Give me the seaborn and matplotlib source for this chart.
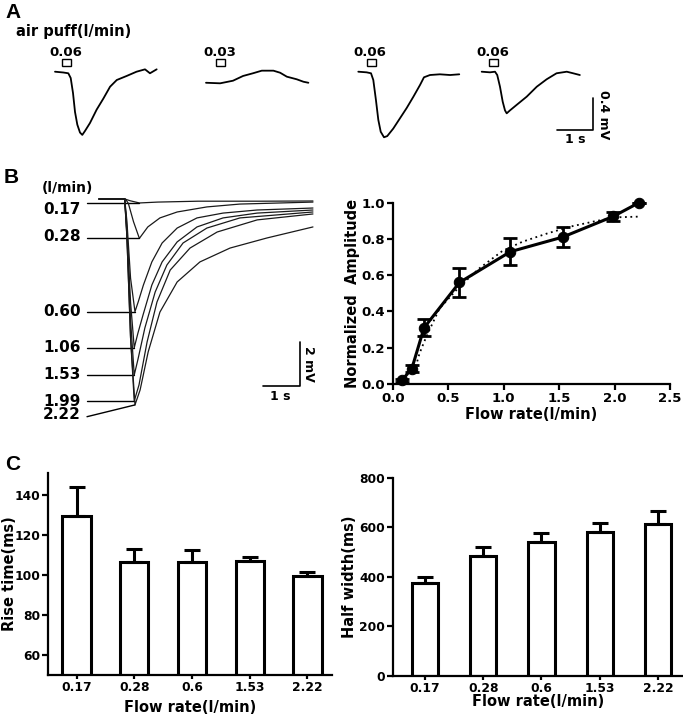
import numpy as np
import pandas as pd
import matplotlib
matplotlib.use("Agg")
import matplotlib.pyplot as plt
import seaborn as sns
from matplotlib.patches import Rectangle

# ------------------------------------------------------------------ data
# Panel A: example responses to air puffs (time in s, potential in mV)
A_flow_labels = ["0.06", "0.03", "0.06", "0.06"]
A_t1 = [0, 0.235, 0.377, 0.445, 0.51, 0.567, 0.632, 0.708, 0.773, 0.85, 0.99, 1.18, 1.37, 1.56, 1.75, 2.03, 2.31, 2.55, 2.69, 2.88]
A_v1 = [0, -0.01, -0.02, -0.08, -0.27, -0.51, -0.67, -0.77, -0.80, -0.75, -0.65, -0.48, -0.34, -0.19, -0.105, -0.054, 0.0, 0.03, -0.02, 0.03]
A_t2 = [0, 0.40, 0.765, 1.05, 1.33, 1.58, 1.91, 2.10, 2.29, 2.57, 2.76, 2.90]
A_v2 = [-0.14, -0.147, -0.114, -0.054, -0.02, 0.013, 0.013, -0.013, -0.063, -0.096, -0.127, -0.14]
A_t3 = [0, 0.235, 0.36, 0.425, 0.5, 0.567, 0.635, 0.728, 0.82, 0.99, 1.18, 1.37, 1.56, 1.75, 1.86, 2.03, 2.31, 2.60, 2.86]
A_v3 = [0, -0.008, -0.02, -0.105, -0.36, -0.61, -0.76, -0.83, -0.815, -0.72, -0.59, -0.46, -0.317, -0.167, -0.071, -0.042, -0.033, -0.042, -0.033]
A_t4 = [0, 0.235, 0.377, 0.44, 0.518, 0.595, 0.66, 0.708, 0.80, 0.99, 1.275, 1.56, 1.84, 2.12, 2.41, 2.59, 2.78]
A_v4 = [0, -0.008, 0, -0.042, -0.19, -0.38, -0.49, -0.527, -0.49, -0.42, -0.316, -0.19, -0.096, -0.02, 0, -0.02, -0.042]
A_stim_on = [0.20, 0.28, 0.24, 0.21]   # s after trace start
A_stim_dur = 0.26                       # s

# Panel B (left): responses at increasing flow rates (time s, mV)
B_labels = ["0.17", "0.28", "0.60", "1.06", "1.53", "1.99", "2.22"]
B_t017 = [0, 0.70, 0.85, 1.10, 1.60, 2.70, 4.40, 5.83]
B_v017 = [0, 0, -0.08, -0.18, -0.14, -0.10, -0.10, -0.09]
B_t028 = [0, 0.72, 0.80, 0.94, 1.10, 1.33, 1.66, 2.13, 2.94, 3.84, 5.83]
B_v028 = [0, 0, -0.2, -1.03, -1.79, -1.27, -0.86, -0.59, -0.36, -0.23, -0.14]
B_t060 = [0, 0.70, 0.76, 0.86, 0.98, 1.07, 1.21, 1.44, 1.72, 2.13, 2.67, 3.38, 4.31, 5.83]
B_v060 = [0, 0, -1.0, -3.6, -5.12, -4.67, -3.91, -2.86, -2.0, -1.32, -0.86, -0.64, -0.5, -0.41]
B_t106 = [0, 0.70, 0.76, 0.86, 0.96, 1.06, 1.20, 1.44, 1.72, 2.13, 2.67, 3.38, 4.31, 5.83]
B_v106 = [0, 0, -1.3, -4.7, -6.76, -6.1, -5.27, -3.91, -2.86, -1.95, -1.27, -0.86, -0.64, -0.5]
B_t153 = [0, 0.70, 0.76, 0.86, 0.96, 1.06, 1.25, 1.53, 1.85, 2.29, 2.94, 3.84, 5.83]
B_v153 = [0, 0, -1.5, -5.5, -8.0, -7.3, -5.86, -4.23, -3.0, -2.0, -1.32, -0.86, -0.59]
B_t199 = [0, 0.70, 0.76, 0.86, 0.96, 1.09, 1.31, 1.58, 1.94, 2.48, 3.22, 4.31, 5.83]
B_v199 = [0, 0, -1.7, -6.3, -9.18, -8.45, -6.5, -4.68, -3.23, -2.23, -1.5, -0.95, -0.68]
B_t222 = [0, 0.70, 0.76, 0.86, 0.98, 1.12, 1.34, 1.66, 2.13, 2.75, 3.57, 4.58, 5.83]
B_v222 = [0, 0, -1.7, -6.3, -9.36, -8.68, -6.95, -5.14, -3.77, -2.86, -2.23, -1.77, -1.27]

# Panel B (right): normalized amplitude vs flow rate
B_flow = [0.08, 0.17, 0.28, 0.60, 1.06, 1.53, 1.99, 2.22]
B_amp = [0.02, 0.085, 0.31, 0.56, 0.73, 0.81, 0.925, 1.00]
B_sem = [0.01, 0.02, 0.048, 0.08, 0.074, 0.055, 0.025, 0.0]
B_fit_x = [0.205, 0.24, 0.30, 0.42, 0.60, 0.78, 0.99, 1.17, 1.39, 1.60, 1.84, 2.05, 2.21]
B_fit_y = [0.096, 0.17, 0.26, 0.417, 0.537, 0.638, 0.735, 0.785, 0.83, 0.868, 0.90, 0.92, 0.923]

# Panel C: rise time and half width
C_flow = ["0.17", "0.28", "0.6", "1.53", "2.22"]
C_rise = [129.5, 106.2, 106.5, 106.7, 99.2]
C_rise_sem = [14.7, 6.6, 6.0, 2.1, 2.0]
C_half = [373, 483, 540, 582, 611]
C_half_sem = [27, 35, 38, 33, 56]

# ------------------------------------------------------------------ style
sns.set_style("ticks")
plt.rcParams["font.family"] = ["DejaVu Sans"]
plt.rcParams["font.weight"] = "bold"
plt.rcParams["axes.labelweight"] = "bold"
for key in ("text.color", "axes.labelcolor", "xtick.color", "ytick.color", "axes.edgecolor"):
    plt.rcParams[key] = "black"

W, H = 683, 719
fig = plt.figure(figsize=(W / 100, H / 100), dpi=100)


def px_ax(l, t, r, b):
    return fig.add_axes([l / W, 1 - b / H, (r - l) / W, (b - t) / H])


def ftext(x, y, s, **kw):
    fig.text(x / W, 1 - y / H, s, **kw)


LW_AX = 1.6

# ------------------------------------------------------------------ panel A
ftext(5, 3, "A", fontsize=15, fontweight="bold", va="top", family="Liberation Sans")
ftext(16, 31.5, "air puff(l/min)", fontsize=10.5, fontweight="bold", va="center")

A_PX_S, A_PX_MV, A_Y0 = 35.3, 79.0, 71.7
axA = px_ax(0, 40, W, 160)
axA.set_xlim(0, W / A_PX_S)
axA.set_ylim((A_Y0 - 160) / A_PX_MV, (A_Y0 - 40) / A_PX_MV)
axA.axis("off")
A_start_px = [55, 206, 358.3, 481.7]
A_times = [A_t1, A_t2, A_t3, A_t4]
A_volts = [A_v1, A_v2, A_v3, A_v4]
for t, v, x0, lab, st in zip(A_times, A_volts, A_start_px, A_flow_labels, A_stim_on):
    off = x0 / A_PX_S
    axA.plot(np.array(t) + off, v, color="black", lw=1.3)
    axA.add_patch(Rectangle((off + st, (A_Y0 - 66) / A_PX_MV), A_stim_dur, 7 / A_PX_MV,
                            fill=False, ec="black", lw=1.0))
    axA.text(off + st + A_stim_dur / 2 - 0.03, (A_Y0 - 53) / A_PX_MV, lab, ha="center",
             va="center", fontsize=9.5, fontweight="bold")
# scale bar A: 1 s, 0.4 mV
sb_t0 = 557.3 / A_PX_S
sb_v0 = (A_Y0 - 130) / A_PX_MV
axA.plot([sb_t0, sb_t0 + 1, sb_t0 + 1], [sb_v0, sb_v0, sb_v0 + 0.4], color="black", lw=1.2)
axA.text(sb_t0 + 0.5, sb_v0 - 0.04, "1 s", ha="center", va="top", fontsize=9, fontweight="bold")
axA.text(sb_t0 + 1.12, sb_v0 + 0.2, "0.4 mV", ha="left", va="center", rotation=-90,
         fontsize=9, fontweight="bold")

# ------------------------------------------------------------------ panel B left
ftext(4, 168, "B", fontsize=15, fontweight="bold", va="top", family="Liberation Sans")
ftext(42, 187.7, "(l/min)", fontsize=10, fontweight="bold", va="center")

B_PX_S, B_PX_MV, B_X0, B_Y0 = 36.7, 22.0, 99.0, 199.0
axB = px_ax(0, 175, 330, 430)
axB.set_xlim((0 - B_X0) / B_PX_S, (330 - B_X0) / B_PX_S)
axB.set_ylim((B_Y0 - 430) / B_PX_MV, (B_Y0 - 175) / B_PX_MV)
axB.axis("off")
B_times = [B_t017, B_t028, B_t060, B_t106, B_t153, B_t199, B_t222]
B_volts = [B_v017, B_v028, B_v060, B_v106, B_v153, B_v199, B_v222]
B_text_y_px = [210, 236.7, 311.7, 347.7, 374.3, 401, 414.5]
line_x0 = (87 - B_X0) / B_PX_S
for i, (t, v, lab, ty) in enumerate(zip(B_times, B_volts, B_labels, B_text_y_px)):
    axB.plot(t, v, color="#1a1a1a", lw=0.9)
    k = int(np.argmin(v))
    start_v = v[k] if i < 6 else (B_Y0 - 416.7) / B_PX_MV
    axB.plot([line_x0, t[k]], [start_v, v[k]], color="black", lw=1.0)
    ftext(43, ty, lab, fontsize=11, fontweight="bold", va="center")
# scale bar B: 1 s, 2 mV
bs_t0 = (263.3 - B_X0) / B_PX_S
bs_v0 = (B_Y0 - 386) / B_PX_MV
axB.plot([bs_t0, bs_t0 + 1, bs_t0 + 1], [bs_v0, bs_v0, bs_v0 + 2], color="black", lw=1.2)
axB.text(bs_t0 + 0.45, bs_v0 - 0.2, "1 s", ha="center", va="top", fontsize=9, fontweight="bold")
axB.text(bs_t0 + 1.05, bs_v0 + 1.0, "2 mV", ha="left", va="center", rotation=-90,
         fontsize=9, fontweight="bold")

# ------------------------------------------------------------------ panel B right
axR = px_ax(393, 202.7, 670, 384)
axR.plot(B_fit_x, B_fit_y, color="black", lw=1.3, linestyle=(0, (1, 2)))
sns.lineplot(x=B_flow, y=B_amp, ax=axR, color="black", lw=2.2, marker="o", markersize=7.5,
             markeredgecolor="black", markerfacecolor="black")
axR.errorbar(B_flow, B_amp, yerr=B_sem, fmt="none", ecolor="black", elinewidth=2,
             capsize=4.7, capthick=2)
for ln in axR.lines:
    ln.set_clip_on(False)
axR.set_xlim(0, 2.5)
axR.set_ylim(0, 1.0)
axR.set_xticks([0, 0.5, 1.0, 1.5, 2.0, 2.5])
axR.set_xticklabels(["0.0", "0.5", "1.0", "1.5", "2.0", "2.5"])
axR.set_yticks([0, 0.2, 0.4, 0.6, 0.8, 1.0])
axR.set_yticklabels(["0.0", "0.2", "0.4", "0.6", "0.8", "1.0"])
axR.set_xlabel("Flow rate(l/min)", fontsize=10.5)
axR.set_ylabel("Normalized  Amplitude", fontsize=10.5)
axR.xaxis.set_label_coords(0.5, -0.125)
axR.yaxis.set_label_coords(-0.118, 0.5)

# ------------------------------------------------------------------ panel C
ftext(5, 455, "C", fontsize=15, fontweight="bold", va="top", family="Liberation Sans")

axC1 = px_ax(48.3, 473, 331.7, 674.5)
dfr = pd.DataFrame({"flow": C_flow, "val": C_rise})
sns.barplot(data=dfr, x="flow", y="val", order=C_flow, ax=axC1, color="white",
            edgecolor="black", linewidth=2.2, width=0.49, errorbar=None)
axC1.errorbar(range(len(C_flow)), C_rise, yerr=[np.zeros(len(C_flow)), C_rise_sem],
              fmt="none", ecolor="black", elinewidth=2.2, capsize=6, capthick=2.2)
axC1.set_xlim(-0.49, 4.42)
axC1.set_ylim(50, 151)
axC1.set_yticks([60, 80, 100, 120, 140])
axC1.set_xlabel("Flow rate(l/min)", fontsize=10.5)
axC1.set_ylabel("Rise time(ms)", fontsize=10.5)
axC1.xaxis.set_label_coords(0.5, -0.127)
axC1.yaxis.set_label_coords(-0.112, 0.5)

axC2 = px_ax(393, 477.7, 683, 675.7)
dfh = pd.DataFrame({"flow": C_flow, "val": C_half})
sns.barplot(data=dfh, x="flow", y="val", order=C_flow, ax=axC2, color="white",
            edgecolor="black", linewidth=2.2, width=0.45, errorbar=None)
axC2.errorbar(range(len(C_flow)), C_half, yerr=[np.zeros(len(C_flow)), C_half_sem],
              fmt="none", ecolor="black", elinewidth=2.2, capsize=6, capthick=2.2)
axC2.set_xlim(-0.55, 4.43)
axC2.set_ylim(0, 800)
axC2.set_yticks([0, 200, 400, 600, 800])
axC2.set_xlabel("Flow rate(l/min)", fontsize=10.5)
axC2.set_ylabel("Half width(ms)", fontsize=10.5)
axC2.xaxis.set_label_coords(0.5, -0.09)
axC2.yaxis.set_label_coords(-0.125, 0.5)

for ax, ls in ((axR, 9.5), (axC1, 8.8), (axC2, 8.8)):
    sns.despine(ax=ax)
    for s in ("left", "bottom"):
        ax.spines[s].set_linewidth(LW_AX)
        ax.spines[s].set_color("black")
    ax.tick_params(axis="both", direction="out", length=4, width=LW_AX, color="black",
                   labelcolor="black", labelsize=ls, pad=1.5)
    for lab in ax.get_xticklabels() + ax.get_yticklabels():
        lab.set_fontweight("bold")
    ax.set_facecolor("none")
axC1.tick_params(axis="x", length=3)
axC2.tick_params(axis="x", length=3)

fig.savefig("out.png", dpi=100)
